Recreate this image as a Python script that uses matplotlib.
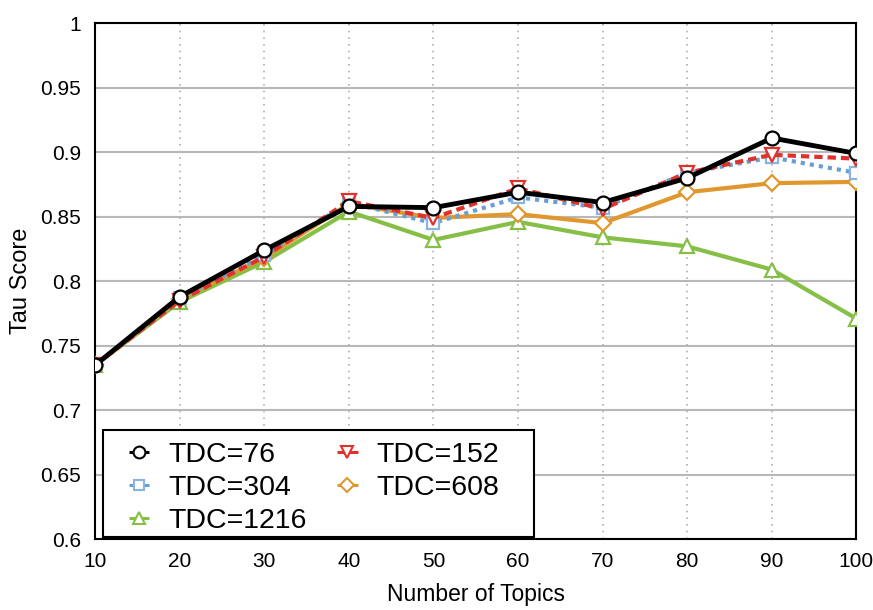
import matplotlib.pyplot as plt
from matplotlib.lines import Line2D
from matplotlib.patches import Rectangle
from matplotlib.legend_handler import HandlerLine2D

plt.rcParams["font.family"] = ["Liberation Sans", "DejaVu Sans"]

# --- Data ---
topics = [10, 20, 30, 40, 50, 60, 70, 80, 90, 100]
tdc_76 = [0.735, 0.788, 0.824, 0.858, 0.857, 0.869, 0.861, 0.880, 0.911, 0.899]
tdc_152 = [0.735, 0.785, 0.819, 0.862, 0.849, 0.872, 0.856, 0.884, 0.898, 0.895]
tdc_304 = [0.735, 0.787, 0.820, 0.861, 0.845, 0.865, 0.857, 0.884, 0.896, 0.884]
tdc_608 = [0.735, 0.786, 0.818, 0.860, 0.849, 0.852, 0.845, 0.869, 0.876, 0.877]
tdc_1216 = [0.735, 0.784, 0.815, 0.854, 0.832, 0.846, 0.834, 0.827, 0.809, 0.771]
y_ticks = [0.6, 0.65, 0.7, 0.75, 0.8, 0.85, 0.9, 0.95, 1.0]
y_tick_labels = ["0.6", "0.65", "0.7", "0.75", "0.8", "0.85", "0.9", "0.95", "1"]

# series styles: (label, values, color, linestyle, marker, marker size)
series = [
    ("TDC=1216", tdc_1216, "#86bf46", "-", "^", 10),
    ("TDC=608", tdc_608, "#e0982e", "-", "D", 8),
    ("TDC=304", tdc_304, "#6a9fd6", (0, (1, 1.2)), "s", 9),
    ("TDC=152", tdc_152, "#e0322c", (0, (2, 1.2)), "v", 10),
    ("TDC=76", tdc_76, "black", "-", "o", 10),
]


class StubHandler(HandlerLine2D):
    """Short line stub with the marker a bit right of the handle centre."""

    def create_artists(self, legend, orig_handle, xdescent, ydescent,
                       width, height, fontsize, trans):
        cx = -xdescent + width * 0.6
        cy = (height - ydescent) / 2
        stub = Line2D([cx - 7.5, cx + 7.5], [cy, cy], color=orig_handle.get_color(),
                      lw=orig_handle.get_linewidth(), solid_capstyle="butt")
        mark = Line2D([cx], [cy], ls="none", marker=orig_handle.get_marker(),
                      ms=orig_handle.get_markersize(), mfc="white",
                      mec=orig_handle.get_markeredgecolor(), mew=1.5)
        stub.set_transform(trans)
        mark.set_transform(trans)
        return [stub, mark]


fig = plt.figure(figsize=(8.73, 6.10), dpi=100)
ax = fig.add_axes([0.109, 0.116, 0.872, 0.846])

proxies = {}
for z, (label, vals, col, ls, mk, ms) in enumerate(series):
    lw = 3.5 if col == "black" else 3
    mec = "#8ab4e0" if mk == "s" else col
    ax.plot(topics, vals, color=col, lw=lw, ls=ls, marker=mk, ms=ms,
            mfc="white", mec=mec, mew=1.6, zorder=3 + z)
    proxies[label] = Line2D([], [], color=col, lw=2.2, marker=mk, ms=ms * 0.85,
                            mfc="white", mec=mec)

ax.set_xlim(10, 100)
ax.set_ylim(0.6, 1.0)
ax.set_xticks(topics)
ax.set_yticks(y_ticks)
ax.set_yticklabels(y_tick_labels)
ax.tick_params(axis="y", length=0, labelsize=15, pad=10)
ax.tick_params(axis="x", length=0, labelsize=15, pad=9)
ax.yaxis.grid(True, color="#b8b8b8", lw=1.5, ls="-")
ax.xaxis.grid(True, color="#b0b0b0", lw=1.2, ls=(0, (1, 3)))
ax.set_axisbelow(True)
for s in ax.spines.values():
    s.set_linewidth(1.5)
    s.set_color("black")

ax.set_xlabel("Number of Topics", fontsize=16.5, labelpad=9)
ax.set_ylabel("Tau Score", fontsize=17, labelpad=6)

# legend frame drawn as its own box (wider than the entries, as in the original)
frame = Rectangle((0.0105, 0.004), 0.5665, 0.207, transform=ax.transAxes,
                  facecolor="white", edgecolor="black", lw=1.5, zorder=9,
                  clip_on=False)
ax.add_patch(frame)

order = ["TDC=76", "TDC=304", "TDC=1216", "TDC=152", "TDC=608"]
leg = ax.legend([proxies[k] for k in order], order, ncol=2,
                loc="lower left", bbox_to_anchor=(0.0105, 0.004), borderaxespad=0,
                fontsize=20.5, handlelength=1.93, handletextpad=0.25,
                columnspacing=0.28, labelspacing=0.25, borderpad=0.1,
                frameon=False, handler_map={Line2D: StubHandler()})
leg.set_zorder(10)

fig.savefig("out.png", dpi=100)
